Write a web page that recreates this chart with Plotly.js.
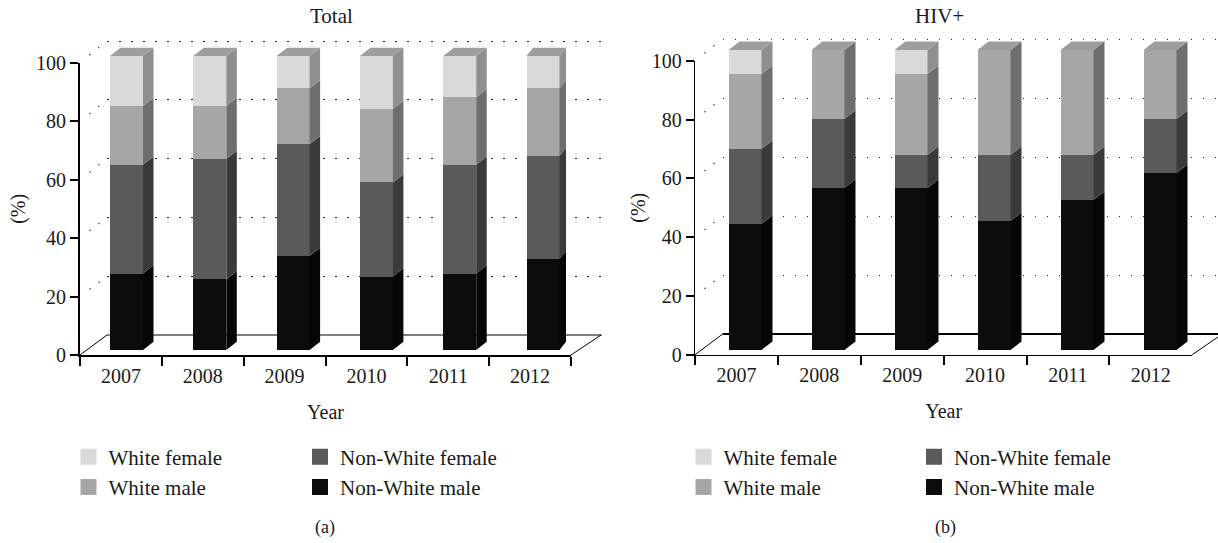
<!DOCTYPE html>
<html>
<head>
<meta charset="utf-8">
<script src="https://cdn.plot.ly/plotly-3.0.1.min.js"></script>
<style>html,body{margin:0;padding:0;background:#fff}#chart{width:1218px;height:543px}</style>
</head>
<body>
<div id="chart"></div>
<script>
const years = [2007, 2008, 2009, 2010, 2011, 2012];
const seriesNames = ['Non-White male', 'Non-White female', 'White male', 'White female'];
const totalNonWhiteMale = [26, 24, 32, 25, 26, 31];
const totalNonWhiteFemale = [37, 41, 38, 32, 37, 35];
const totalWhiteMale = [20, 18, 19, 25, 23, 23];
const totalWhiteFemale = [17, 17, 11, 18, 14, 11];
const hivNonWhiteMale = [42, 54, 54, 43, 50, 59];
const hivNonWhiteFemale = [25, 23, 11, 22, 15, 18];
const hivWhiteMale = [25, 23, 27, 35, 35, 23];
const hivWhiteFemale = [8, 0, 8, 0, 0, 0];
const yTicks = [0, 20, 40, 60, 80, 100];

const W = 1218, H = 543;
const FONT = '"Liberation Serif", serif';
const FS = 20;
const INK = '#1a1a1a';
const frontColors = ['#0c0d0b', '#5a5a5a', '#a6a6a6', '#d9d9d9'];
const sideColors = ['#060606', '#3a3a3a', '#6e6e6e', '#8f8f8f'];
const topColor = '#9e9e9e';

const panels = [
  {title: 'Total', tag: '(a)', values: [totalNonWhiteMale, totalNonWhiteFemale, totalWhiteMale, totalWhiteFemale],
   x0: 80, x1: 571, y0: 355, y100: 62.7, bx0: 107, bx1: 601.7, by0: 335, by100: 41,
   barC: 126.5, barStep: 83.3, barW: 33, barBase: 350, barScale: 2.94, depthX: [10.5, 10.5, 10.5, 10.5, 10.5, 6.5], depthY: 8.2,
   barRight: 620, titleX: 331, tagX: 325, yStandoff: 5, axisW: 2, floorW: 1, legX: [68.5, 300], legendIds: ['legend', 'legend2']},
  {title: 'HIV+', tag: '(b)', values: [hivNonWhiteMale, hivNonWhiteFemale, hivWhiteMale, hivWhiteFemale],
   x0: 695, x1: 1192.3, y0: 354.7, y100: 60.7, bx0: 722.7, bx1: 1218, by0: 334, by100: 39,
   barC: 745, barStep: 83, barW: 33, barBase: 350, barScale: 3, depthX: [11, 11, 11, 11, 11, 11], depthY: 8.5,
   barRight: 1218, titleX: 940, tagX: 945, yStandoff: 0, axisW: 1.4, floorW: 2, legX: [683.5, 914], legendIds: ['legend3', 'legend4']}
];

const fx = p => p / W, fy = p => 1 - p / H;
const traces = [], shapes = [], annotations = [];
const layout = {
  width: W, height: H, margin: {l: 0, r: 0, t: 0, b: 0}, paper_bgcolor: '#fff', plot_bgcolor: 'rgba(0,0,0,0)',
  font: {family: FONT, size: FS, color: INK}, barmode: 'stack', bargap: 0, hovermode: false, showlegend: true
};

function axisKey(n) { return n === 1 ? '' : String(n); }

panels.forEach((p, pi) => {
  const base = pi * 3;
  const backN = base + 1, frontN = base + 2, barN = base + 3;
  const backScale = (p.by0 - p.by100) / 100;
  // back wall: dotted grid
  layout['xaxis' + axisKey(backN)] = {domain: [fx(p.bx0), fx(Math.min(p.bx1, W))], range: [0, 6], visible: false, anchor: 'y' + axisKey(backN), fixedrange: true};
  layout['yaxis' + axisKey(backN)] = {domain: [fy(p.by0 + 6), fy(p.by100 - 6)], range: [-6 / backScale, 100 + 6 / backScale], tickvals: yTicks.filter(v => v > 0), showticklabels: false, ticks: '', showline: false,
    showgrid: true, gridcolor: '#222', gridwidth: 1.45, griddash: '1.5px 10.5px', zeroline: false, anchor: 'x' + axisKey(backN), fixedrange: true};
  // front: visible axes
  layout['xaxis' + axisKey(frontN)] = {domain: [fx(p.x0), fx(p.x1)], type: 'category', categoryorder: 'array', categoryarray: years.map(String), tickson: 'boundaries',
    range: [-0.5, 5.5], ticks: 'outside', ticklen: 9, tickwidth: 2, tickcolor: '#000', showline: true, linecolor: '#000', linewidth: p.axisW, showgrid: false, zeroline: false,
    ticklabelstandoff: 2, tickfont: {family: FONT, size: FS, color: INK}, title: {text: 'Year', standoff: 19, font: {family: FONT, size: FS, color: INK}},
    anchor: 'y' + axisKey(frontN), fixedrange: true};
  layout['yaxis' + axisKey(frontN)] = {domain: [fy(p.y0), fy(p.y100)], range: [0, 100], tickvals: yTicks, ticks: 'outside', ticklen: 8, tickwidth: 2, tickcolor: '#000',
    showline: true, linecolor: '#000', linewidth: p.axisW, showgrid: false, zeroline: false, tickfont: {family: FONT, size: FS, color: INK},
    title: {text: '(%)', standoff: p.yStandoff, font: {family: FONT, size: FS, color: INK}}, anchor: 'x' + axisKey(frontN), fixedrange: true};
  // bar axes
  const yearAt = px => years[0] + (px - p.barC) / p.barStep;
  const yTop = (p.barBase - 38) / p.barScale;
  layout['xaxis' + axisKey(barN)] = {domain: [fx(p.x0), fx(p.barRight)], range: [yearAt(p.x0), yearAt(p.barRight)], visible: false, anchor: 'y' + axisKey(barN), fixedrange: true};
  layout['yaxis' + axisKey(barN)] = {domain: [fy(p.barBase), fy(38)], range: [0, yTop], visible: false, anchor: 'x' + axisKey(barN), fixedrange: true};

  // floor outline + depth dots (chart furniture in paper space)
  const paperLine = (x0, y0, x1, y1, width, color, dash) => shapes.push({type: 'line', layer: 'below', xref: 'paper', yref: 'paper',
    x0: fx(x0), y0: fy(y0), x1: fx(x1), y1: fy(y1), line: {width, color, dash: dash || 'solid'}});
  paperLine(p.x0, p.y0, p.bx0, p.by0, 1, '#000');
  paperLine(p.bx0, p.by0, p.bx1, p.by0, p.floorW, '#000');
  paperLine(p.x1, p.y0, p.x1 + 30, p.by0, 1, '#000');
  yTicks.filter(v => v > 0).forEach(v => {
    const yf = p.y0 + (p.y100 - p.y0) * v / 100, yb = p.by0 + (p.by100 - p.by0) * v / 100;
    paperLine(p.x0, yf, p.bx0, yb, 1.3, '#333', '0px 12px 1.3px 10px 1.3px 30px');
  });

  // invisible carrier on back axes so the grid is drawn
  traces.push({type: 'scatter', mode: 'none', x: [0, 6], y: [0, 100], xaxis: 'x' + axisKey(backN), yaxis: 'y' + axisKey(backN), showlegend: false, hoverinfo: 'skip'});

  // bars + 3D faces
  const xs = years;
  const cum = years.map(() => 0);
  const wYear = p.barW / p.barStep;
  const dyV = p.depthY / p.barScale;
  seriesNames.forEach((name, si) => {
    const vals = p.values[si];
    traces.push({type: 'bar', name, x: xs, y: vals, width: wYear, marker: {color: frontColors[si], line: {width: 0}},
      xaxis: 'x' + axisKey(barN), yaxis: 'y' + axisKey(barN), showlegend: false, hoverinfo: 'skip'});
    const sx = [], sy = [];
    vals.forEach((v, i) => {
      if (v > 0) {
        const xa = xs[i] + wYear / 2, xb = xa + p.depthX[i] / p.barStep;
        sx.push(xa, xb, xb, xa, xa, null);
        sy.push(cum[i], cum[i] + dyV, cum[i] + v + dyV, cum[i] + v, cum[i], null);
      }
      cum[i] += v;
    });
    traces.push({type: 'scatter', mode: 'lines', x: sx, y: sy, fill: 'toself', fillcolor: sideColors[si], line: {width: 0, color: sideColors[si]},
      xaxis: 'x' + axisKey(barN), yaxis: 'y' + axisKey(barN), showlegend: false, hoverinfo: 'skip', name: name + ' side'});
  });
  const tx = [], ty = [];
  cum.forEach((c, i) => {
    const xa = xs[i] - wYear / 2, xb = xs[i] + wYear / 2, d = p.depthX[i] / p.barStep;
    tx.push(xa, xb, xb + d, xa + d, xa, null);
    ty.push(c, c, c + dyV, c + dyV, c, null);
  });
  traces.push({type: 'scatter', mode: 'lines', x: tx, y: ty, fill: 'toself', fillcolor: topColor, line: {width: 0, color: topColor},
    xaxis: 'x' + axisKey(barN), yaxis: 'y' + axisKey(barN), showlegend: false, hoverinfo: 'skip', name: 'top'});

  // legends
  const legendCols = [[3, 2], [1, 0]];
  legendCols.forEach((col, ci) => {
    const id = p.legendIds[ci];
    layout[id] = {x: fx(p.legX[ci]), xanchor: 'left', y: fy(436.5), yanchor: 'top', bgcolor: 'rgba(0,0,0,0)', borderwidth: 0, traceorder: 'normal',
      font: {family: FONT, size: 21, color: INK}, tracegroupgap: 0, itemclick: false, itemdoubleclick: false};
    col.forEach(si => {
      traces.push({type: 'scatter', mode: 'markers', name: seriesNames[si], legend: id, x: years.map(String), y: years.map(() => null),
        marker: {symbol: 'square', size: 16, color: frontColors[si], line: {width: 0}},
        xaxis: 'x' + axisKey(frontN), yaxis: 'y' + axisKey(frontN), showlegend: true, hoverinfo: 'skip'});
    });
  });

  annotations.push({xref: 'paper', yref: 'paper', x: fx(p.titleX), y: fy(16), text: p.title, showarrow: false, xanchor: 'center', yanchor: 'middle', font: {family: FONT, size: 21, color: INK}});
  annotations.push({xref: 'paper', yref: 'paper', x: fx(p.tagX), y: fy(527), text: p.tag, showarrow: false, xanchor: 'center', yanchor: 'middle', font: {family: FONT, size: FS - 2, color: INK}});
});
layout.shapes = shapes;
layout.annotations = annotations;
Plotly.newPlot('chart', traces, layout, {displayModeBar: false, staticPlot: false, responsive: false});
</script>
</body>
</html>
